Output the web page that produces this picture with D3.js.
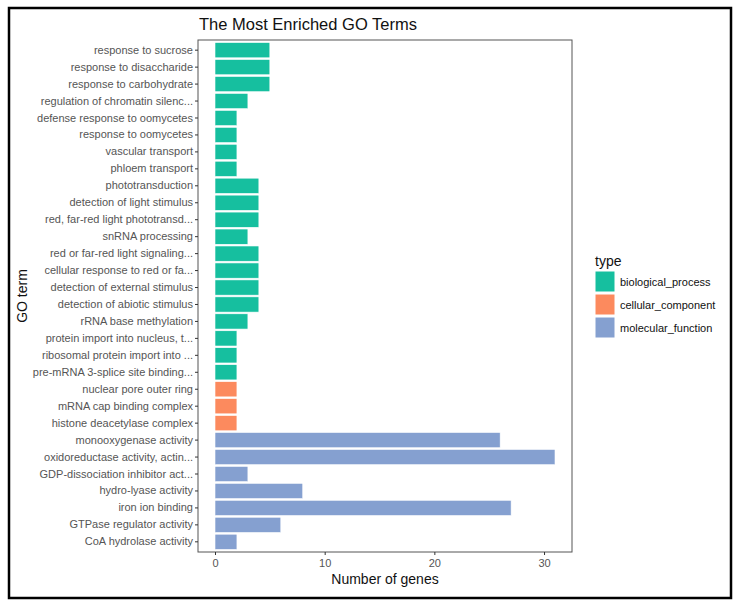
<!DOCTYPE html>
<html>
<head>
<meta charset="utf-8">
<script src="https://cdn.jsdelivr.net/npm/d3@7"></script>
<style>
  body { margin: 0; background: #fff; }
  text { font-family: "Liberation Sans", Arial, sans-serif; }
</style>
</head>
<body>
<div id="chart"></div>
<script>
// GO terms, top to bottom
var terms = [
    "response to sucrose", "response to disaccharide", "response to carbohydrate",
    "regulation of chromatin silenc...", "defense response to oomycetes", "response to oomycetes",
    "vascular transport", "phloem transport", "phototransduction", "detection of light stimulus",
    "red, far-red light phototransd...", "snRNA processing", "red or far-red light signaling...",
    "cellular response to red or fa...", "detection of external stimulus", "detection of abiotic stimulus",
    "rRNA base methylation", "protein import into nucleus, t...", "ribosomal protein import into ...",
    "pre-mRNA 3-splice site binding...", "nuclear pore outer ring", "mRNA cap binding complex",
    "histone deacetylase complex", "monooxygenase activity", "oxidoreductase activity, actin...",
    "GDP-dissociation inhibitor act...", "hydro-lyase activity", "iron ion binding",
    "GTPase regulator activity", "CoA hydrolase activity"
];
var counts = [5, 5, 5, 3, 2, 2, 2, 2, 4, 4, 4, 3, 4, 4, 4, 4, 3, 2, 2, 2, 2, 2, 2, 26, 31, 3, 8, 27, 6, 2];
var types = [
    "biological_process", "biological_process", "biological_process", "biological_process",
    "biological_process", "biological_process", "biological_process", "biological_process",
    "biological_process", "biological_process", "biological_process", "biological_process",
    "biological_process", "biological_process", "biological_process", "biological_process",
    "biological_process", "biological_process", "biological_process", "biological_process",
    "cellular_component", "cellular_component", "cellular_component",
    "molecular_function", "molecular_function", "molecular_function", "molecular_function",
    "molecular_function", "molecular_function", "molecular_function"
];
var typeNames = ["biological_process", "cellular_component", "molecular_function"];
var typeColors = ["#16BF9F", "#FC8A5E", "#85A0D0"];
var xTicks = [0, 10, 20, 30];

var data = terms.map(function(t, i) {
    return { term: t, count: counts[i], type: types[i] };
});

var width = 737, height = 610;
var panel = { left: 198, right: 572, top: 40, bottom: 552 };

var svg = d3.select("#chart").append("svg")
    .attr("width", width)
    .attr("height", height);

// outer frame
svg.append("rect")
    .attr("x", 9).attr("y", 8)
    .attr("width", 722).attr("height", 590)
    .attr("fill", "none")
    .attr("stroke", "#000")
    .attr("stroke-width", 2.5);

var xMax = d3.max(counts);
var x = d3.scaleLinear()
    .domain([-0.05 * xMax, xMax * 1.05])
    .range([panel.left, panel.right]);

// ggplot-like discrete expansion (0.6 of a step each side)
var y = d3.scaleBand()
    .domain(terms)
    .range([panel.top, panel.bottom])
    .paddingInner(0.1)
    .paddingOuter(0.15);

var color = d3.scaleOrdinal().domain(typeNames).range(typeColors);

// bars
svg.selectAll(".bar")
    .data(data)
    .enter().append("rect")
    .attr("class", "bar")
    .attr("x", x(0))
    .attr("y", function(d) { return y(d.term); })
    .attr("width", function(d) { return x(d.count) - x(0); })
    .attr("height", y.bandwidth())
    .attr("fill", function(d) { return color(d.type); })
    .attr("stroke", "#fff")
    .attr("stroke-width", 0.6);

// panel border
svg.append("rect")
    .attr("x", panel.left).attr("y", panel.top)
    .attr("width", panel.right - panel.left)
    .attr("height", panel.bottom - panel.top)
    .attr("fill", "none")
    .attr("stroke", "#555")
    .attr("stroke-width", 1);

// axes
var yAxis = svg.append("g")
    .attr("transform", "translate(" + panel.left + ",0)")
    .call(d3.axisLeft(y).tickSize(3).tickPadding(2));
var xAxis = svg.append("g")
    .attr("transform", "translate(0," + panel.bottom + ")")
    .call(d3.axisBottom(x).tickValues(xTicks).tickSize(3).tickPadding(4));

[xAxis, yAxis].forEach(function(ax) {
    ax.select(".domain").remove();
    ax.selectAll(".tick line").attr("stroke", "#333");
    ax.selectAll(".tick text")
        .attr("fill", "#555")
        .style("font-size", "11px");
});

// titles
svg.append("text")
    .attr("x", 199).attr("y", 30)
    .style("font-size", "16.5px")
    .attr("fill", "#111")
    .text("The Most Enriched GO Terms");

svg.append("text")
    .attr("x", (panel.left + panel.right) / 2).attr("y", 584)
    .attr("text-anchor", "middle")
    .style("font-size", "14px")
    .attr("fill", "#111")
    .text("Number of genes");

svg.append("text")
    .attr("transform", "translate(27," + ((panel.top + panel.bottom) / 2) + ") rotate(-90)")
    .attr("text-anchor", "middle")
    .style("font-size", "14px")
    .attr("fill", "#111")
    .text("GO term");

// legend
var legend = svg.append("g").attr("transform", "translate(595,262)");
legend.append("text")
    .attr("x", 0).attr("y", 4)
    .style("font-size", "14px")
    .attr("fill", "#111")
    .text("type");

var item = legend.selectAll(".legend")
    .data(typeNames)
    .enter().append("g")
    .attr("class", "legend")
    .attr("transform", function(d, i) { return "translate(0," + (9 + i * 23) + ")"; });

item.append("rect")
    .attr("width", 20)
    .attr("height", 21)
    .attr("fill", color)
    .attr("stroke", "#fff")
    .attr("stroke-width", 1);

item.append("text")
    .attr("x", 25)
    .attr("y", 11)
    .attr("dy", ".35em")
    .style("font-size", "11px")
    .attr("fill", "#111")
    .text(function(d) { return d; });
</script>
</body>
</html>
